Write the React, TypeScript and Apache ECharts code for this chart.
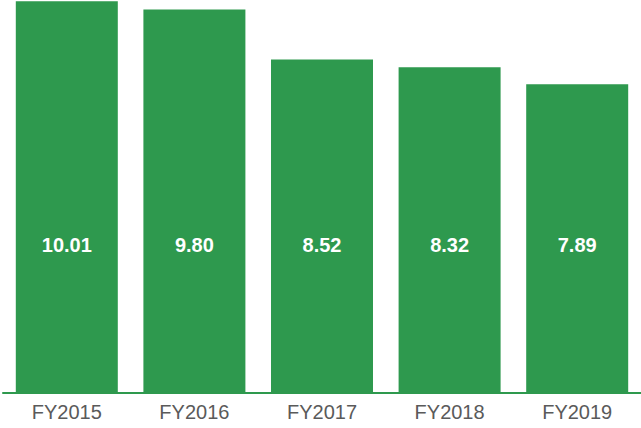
import React, { useEffect, useRef } from "react";
import * as echarts from "echarts";

const categories = ["FY2015", "FY2016", "FY2017", "FY2018", "FY2019"];
const values = [10.01, 9.8, 8.52, 8.32, 7.89];
const valueLabels = ["10.01", "9.80", "8.52", "8.32", "7.89"];

export default function App() {
  const ref = useRef<HTMLDivElement>(null);
  useEffect(() => {
    if (!ref.current) return;
    const chart = echarts.init(ref.current, null, { renderer: "svg" });
    const green = "#2e994e";
    chart.setOption({
      animation: false,
      grid: { left: 3, right: -1, top: 0, bottom: 35, containLabel: false },
      xAxis: {
        type: "category",
        data: categories,
        axisLine: { show: true, lineStyle: { color: green, width: 2 } },
        axisTick: { show: false },
        axisLabel: {
          color: "#5a5a5a",
          fontSize: 20,
          fontFamily: "Liberation Sans, Arial, sans-serif",
          margin: 9,
        },
      },
      yAxis: {
        type: "value",
        min: 0,
        max: 10.04,
        show: false,
        splitLine: { show: false },
      },
      series: [
        {
          type: "bar",
          data: values,
          barWidth: 102,
          itemStyle: { color: green },
          label: {
            show: true,
            position: "insideBottom",
            distance: 138,
            color: "#ffffff",
            fontSize: 20,
            fontWeight: "bold",
            fontFamily: "Liberation Sans, Arial, sans-serif",
            formatter: (p: any) => valueLabels[p.dataIndex],
          },
        },
      ],
    });
    return () => chart.dispose();
  }, []);
  return (
    <div
      ref={ref}
      style={{ position: "fixed", left: 0, top: 0, width: 641, height: 428, background: "#fff" }}
    />
  );
}
